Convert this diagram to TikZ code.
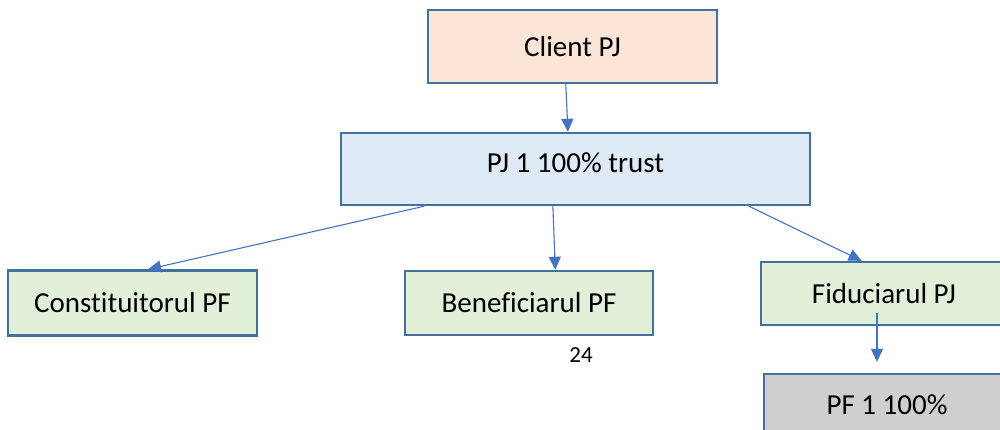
\documentclass[tikz,border=0pt]{standalone}
\usepackage{fontspec}
\setmainfont{Carlito}[Ligatures={NoCommon}]
\usetikzlibrary{arrows.meta,calc}
\definecolor{bord}{HTML}{41719C}
\definecolor{arr}{HTML}{4472C4}
\definecolor{peach}{HTML}{FBE5D6}
\definecolor{lblue}{HTML}{DEEBF7}
\definecolor{lgreen}{HTML}{E2F0D9}
\definecolor{lgray}{HTML}{D0CECE}
\tikzset{
  box/.style={draw=bord, line width=2.4pt, inner sep=0pt, font=\fontsize{29}{33}\selectfont},
  conn/.style={draw=arr, line width=1.1pt, -{Triangle[width=12pt,length=13pt]}},
}
\begin{document}
\begin{tikzpicture}[x=1pt,y=-1pt]
\clip (0,0) rectangle (1000,429);
\fill[white] (0,0) rectangle (1000,429);
\node[box, fill=peach, minimum width=289pt, minimum height=73pt] (client) at (572.5,46.5) {Client PJ};
\node[box, fill=lblue, minimum width=469pt, minimum height=72pt, text depth=12pt] (pj1) at (575.5,169) {PJ 1 100\% trust};
\node[box, fill=lgreen, minimum width=249pt, minimum height=65pt] (const) at (132.5,303) {Constituitorul PF};
\node[box, fill=lgreen, minimum width=248pt, minimum height=64pt] (benef) at (529,303) {Beneficiarul PF};
\node[box, fill=lgreen, minimum width=246pt, minimum height=63pt] (fid) at (884,293.5) {Fiduciarul PJ};
\node[box, fill=lgray, minimum width=246pt, minimum height=62pt] (pf1) at (887,405) {PF 1 100\%};
\node[font=\fontsize{23}{26}\selectfont, inner sep=0pt] (n24) at (581,355) {24};
\coordinate (c1) at (877,313);
\draw[conn] ($(client.south west)!0.477!(client.south east)$) -- ($(pj1.north west)!0.484!(pj1.north east)$);
\draw[conn] ($(pj1.south west)!0.179!(pj1.south east)$) -- ($(const.north west)!0.562!(const.north east)$);
\draw[conn] ($(pj1.south west)!0.452!(pj1.south east)$) -- ($(benef.north west)!0.605!(benef.north east)$);
\draw[conn] ($(pj1.south west)!0.868!(pj1.south east)$) -- ($(fid.north west)!0.41!(fid.north east)$);
\draw[conn, shorten >=11pt] (c1) -- (c1 |- pf1.north);
\end{tikzpicture}
\end{document}
